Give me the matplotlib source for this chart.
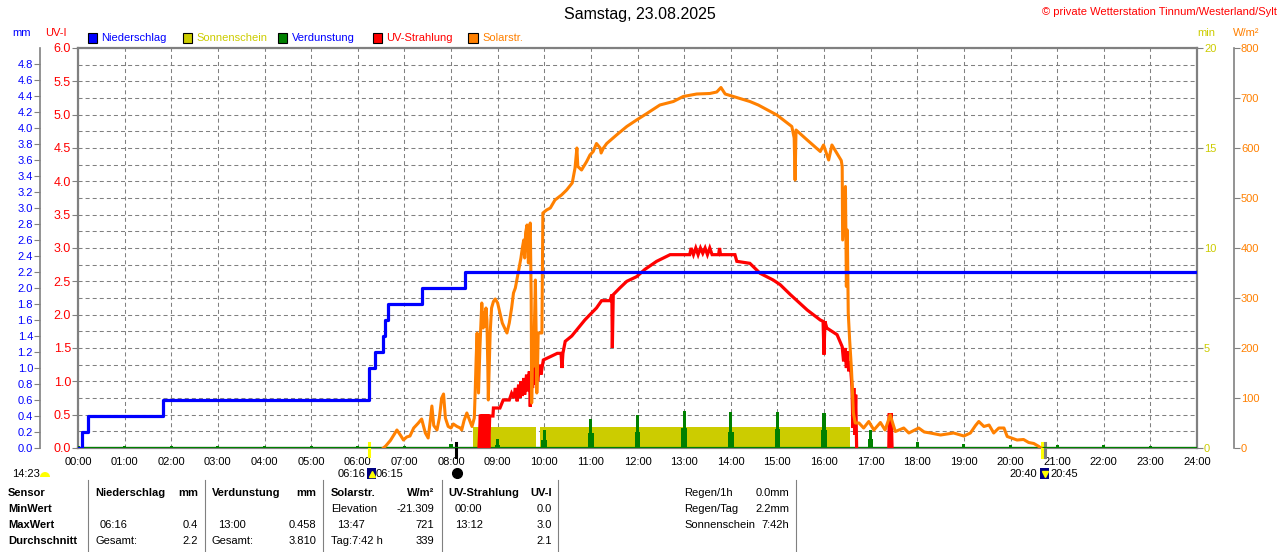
import numpy as np
import matplotlib.pyplot as plt
from matplotlib.lines import Line2D
from matplotlib.patches import Rectangle, Wedge
from matplotlib.transforms import IdentityTransform

plt.rcParams['font.family'] = ['Liberation Sans', 'DejaVu Sans']
plt.rcParams['lines.scale_dashes'] = False

# ---- data (time in hours) ----
rain_t = [0, 0.08, 0.22, 1.82, 6.25, 6.37, 6.54, 6.58, 6.65, 7.37, 8.30, 24]
rain_mm = [0, 0.2, 0.4, 0.6, 1.0, 1.2, 1.4, 1.6, 1.8, 2.0, 2.2, 2.2]

sun_start = [8.48, 9.91]
sun_end = [9.82, 16.55]
sun_min = [1.05, 1.05]

evap_hour = list(range(24))
evap_mm = [0.03, 0.02, 0.02, 0.03, 0.03, 0.03, 0.03, 0.02, 0.05, 0.11, 0.23, 0.36,
           0.41, 0.458, 0.45, 0.45, 0.44, 0.22, 0.08, 0.05, 0.04, 0.04, 0.04, 0.03]
evap_low = [0, 0, 0, 0, 0, 0, 0, 0, 0, 0.04, 0.10, 0.19,
            0.20, 0.25, 0.20, 0.24, 0.23, 0.11, 0, 0, 0, 0, 0, 0]

uv_t = [8.60, 8.63, 8.65, 8.67, 8.69, 8.71, 8.73, 8.75, 8.77, 8.79, 8.81, 8.83, 8.90, 8.91,
        9.05, 9.12, 9.25, 9.30, 9.35, 9.38, 9.42, 9.45, 9.48, 9.50, 9.53, 9.56, 9.58, 9.62,
        9.65, 9.68, 9.70, 9.72, 9.75, 9.78, 9.80, 9.83, 9.86, 9.90, 9.93, 9.98, 10.28, 10.36,
        10.38, 10.40, 10.45, 10.59, 10.73, 10.87, 10.98, 11.12, 11.23, 11.41, 11.45, 11.46,
        11.48, 11.62, 11.77, 11.98, 12.16, 12.41, 12.70, 13.12, 13.15, 13.20, 13.25, 13.30,
        13.35, 13.40, 13.45, 13.50, 13.55, 13.60, 13.74, 13.76, 13.78, 14.09, 14.13, 14.41,
        14.63, 14.91, 15.06, 15.28, 15.64, 15.92, 15.98, 16.00, 16.02, 16.06, 16.28, 16.39,
        16.42, 16.45, 16.48, 16.50, 16.53, 16.56, 16.60, 16.62, 16.64, 16.66, 16.68, 16.70,
        16.71, 17.39, 17.40, 17.42, 17.44, 17.46]
uv_i = [0, 0.5, 0, 0.5, 0, 0.5, 0, 0.5, 0, 0.5, 0, 0.48, 0.48, 0.6,
        0.6, 0.72, 0.72, 0.82, 0.75, 0.9, 0.7, 0.95, 0.75, 1.0, 0.78, 1.05, 0.8, 1.1,
        0.85, 1.15, 0.62, 1.1, 0.9, 1.22, 0.95, 1.2, 1.0, 1.25, 1.1, 1.32, 1.42, 1.42,
        1.2, 1.42, 1.6, 1.68, 1.8, 1.92, 2.0, 2.1, 2.21, 2.21, 2.3, 1.5,
        2.3, 2.4, 2.5, 2.57, 2.68, 2.8, 2.9, 2.9, 3.0, 2.9, 3.0, 2.9,
        3.0, 2.92, 3.0, 2.9, 3.0, 2.9, 2.9, 3.0, 2.9, 2.9, 2.8, 2.77,
        2.62, 2.52, 2.45, 2.3, 2.07, 1.92, 1.9, 1.4, 1.9, 1.8, 1.7, 1.52,
        1.3, 1.5, 1.2, 1.45, 1.15, 1.3, 0.92, 0.3, 0.9, 0.2, 0.8, 0.0,
        np.nan, 0, 0.52, 0.1, 0.52, 0]

sol_t = [6.55, 6.60, 6.70, 6.84, 6.92, 6.98, 7.05, 7.12, 7.20, 7.30, 7.37, 7.45, 7.51, 7.55,
         7.59, 7.63, 7.70, 7.75, 7.80, 7.84, 7.88, 7.94, 8.00, 8.05, 8.13, 8.20, 8.23, 8.28,
         8.34, 8.40, 8.45, 8.50, 8.52, 8.54, 8.56, 8.58, 8.59, 8.62, 8.66, 8.69, 8.71, 8.73,
         8.75, 8.77, 8.79, 8.80, 8.82, 8.84, 8.87, 8.91, 8.95, 9.00, 9.05, 9.10, 9.15, 9.20,
         9.25, 9.30, 9.34, 9.38, 9.42, 9.45, 9.50, 9.53, 9.56, 9.58, 9.60, 9.63, 9.66, 9.68,
         9.70, 9.72, 9.73, 9.75, 9.77, 9.79, 9.81, 9.83, 9.84, 9.86, 9.87, 9.95, 9.97, 10.05,
         10.13, 10.23, 10.37, 10.48, 10.60, 10.66, 10.70, 10.72, 10.80, 10.91, 10.98, 11.05,
         11.12, 11.20, 11.22, 11.27, 11.34, 11.55, 11.77, 11.98, 12.20, 12.48, 12.77, 12.98,
         13.27, 13.55, 13.70, 13.79, 13.88, 14.13, 14.41, 14.59, 14.99, 15.31, 15.36, 15.38,
         15.40, 15.64, 15.92, 15.99, 16.05, 16.10, 16.17, 16.30, 16.37, 16.39, 16.40, 16.43,
         16.46, 16.48, 16.50, 16.52, 16.55, 16.59, 16.63, 16.67, 16.75, 16.85, 16.96, 17.07,
         17.21, 17.31, 17.42, 17.53, 17.71, 17.82, 18.03, 18.15, 18.28, 18.50, 18.78, 19.00,
         19.14, 19.25, 19.32, 19.43, 19.54, 19.64, 19.75, 19.86, 19.93, 20.14, 20.28, 20.39,
         20.50, 20.61, 20.65]
sol_w = [0, 4, 15, 36, 25, 16, 22, 24, 40, 50, 58, 30, 20, 50,
         84, 45, 36, 60, 100, 108, 60, 43, 40, 48, 43, 40, 36, 55,
         70, 55, 43, 60, 116, 180, 230, 150, 110, 200, 290, 240, 270, 243,
         280, 256, 160, 96, 160, 230, 280, 293, 298, 290, 270, 250, 240, 230,
         250, 280, 310, 320, 340, 356, 380, 400, 416, 380, 430, 446, 370, 420,
         450, 300, 90, 200, 163, 250, 336, 200, 110, 180, 230, 230, 470, 476,
         480, 496, 506, 516, 530, 560, 600, 563, 556, 573, 586, 593,
         609, 600, 590, 600, 609, 626, 643, 656, 669, 686, 693, 703,
         708, 709, 712, 721, 708, 701, 693, 686, 666, 643, 620, 536,
         636, 616, 593, 606, 590, 576, 606, 586, 575, 563, 416, 470,
         523, 323, 436, 270, 216, 156, 70, 50, 50, 40, 53, 36,
         51, 36, 66, 33, 40, 30, 40, 32, 30, 26, 30, 24,
         30, 45, 53, 43, 46, 30, 40, 40, 23, 16, 17, 11,
         9, 3, 0]

hour_labels = ['%02d:00' % h for h in range(25)]
sun_marks_t = [6.25, 8.11, 20.67, 20.75]
sun_marks_c = ['#FFFF00', '#000000', '#FFFF00', '#808080']
sun_marks_len = [0.0325, 0.035, 0.035, 0.035]

BLUE = '#0000FF'
RED = '#FF0000'
ORANGE = '#FF8000'
YELLOW = '#CCCC00'
GREEN = '#008000'
GRAY = '#808080'

W, H = 1280, 552
fig = plt.figure(figsize=(12.8, 5.52), dpi=100)


def fx(px):
    return px / W


def fy(py):
    return 1 - py / H


def ptext(x, y, s, **kw):
    kw.setdefault('fontsize', 8)
    kw.setdefault('va', 'center')
    fig.text(fx(x), fy(y), s, **kw)


ax = fig.add_axes([fx(78), fy(448), fx(1197) - fx(78), fy(48) - fy(448)])
ax.set_xlim(0, 24)
ax.set_ylim(0, 6)
ax.set_zorder(0)

ax_sun = ax.twinx()
ax_evap = ax.twinx()
ax_uv = ax.twinx()
ax_sol = ax.twinx()
ax_rain = ax.twinx()
for i, a in enumerate([ax_sun, ax_evap, ax_uv, ax_sol, ax_rain]):
    a.set_zorder(i + 1)
    a.set_xlim(0, 24)
    for s in a.spines.values():
        s.set_visible(False)
    a.tick_params(axis='y', which='both', left=False, right=False,
                  labelleft=False, labelright=False)

# base axis: grid, UV ticks
for s in ['left', 'top', 'right', 'bottom']:
    ax.spines[s].set_color(GRAY)
    ax.spines[s].set_linewidth(1.6)
ax.set_xticks(range(25))
ax.set_xticklabels(hour_labels, fontsize=8)
ax.tick_params(axis='x', length=0, pad=6.5)
ax.set_yticks(np.arange(0, 6.01, 0.5))
ax.set_yticklabels(['%.1f' % v for v in np.arange(0, 6.01, 0.5)], color=RED, fontsize=9)
ax.set_yticks(np.arange(0, 6.01, 0.25), minor=True)
ax.tick_params(axis='y', which='major', left=True, right=False, length=4,
               color=GRAY, pad=1, labelleft=True, labelright=False)
ax.tick_params(axis='y', which='minor', length=0)
ax.grid(True, which='both', axis='y', color=GRAY, lw=0.75, linestyle=(0, (2.9, 2.2)))
ax.grid(True, which='major', axis='x', color=GRAY, lw=0.75, linestyle=(0, (2.9, 2.2)))
ax.set_axisbelow(True)

# sunshine
ax_sun.set_ylim(0, 20)
ax_sun.bar(sun_start, sun_min, width=np.array(sun_end) - np.array(sun_start),
           align='edge', color=YELLOW, linewidth=0)
ax_sun.set_yticks([0, 5, 10, 15, 20])
ax_sun.set_yticklabels(['0', '5', '10', '15', '20'], color=YELLOW, fontsize=8)
ax_sun.tick_params(axis='y', right=True, labelright=True, length=4, color=GRAY, pad=1)

# evaporation
ax_evap.set_ylim(0, 5)
ax_evap.bar(evap_hour, evap_low, width=0.12, color=GREEN, linewidth=0)
ax_evap.bar(evap_hour, evap_mm, width=0.065, color=GREEN, linewidth=0)
ax_evap.axhline(0, color=GREEN, lw=1.6)

# UV
ax_uv.set_ylim(0, 6)
ax_uv.plot(uv_t, uv_i, color=RED, lw=2.3, solid_joinstyle='miter')

# solar
ax_sol.set_ylim(0, 800)
ax_sol.plot(sol_t, sol_w, color=ORANGE, lw=2.2)
ax_sol.spines['right'].set_visible(True)
ax_sol.spines['right'].set_position(('outward', 26.6))
ax_sol.spines['right'].set_color(GRAY)
ax_sol.spines['right'].set_linewidth(1.2)
ax_sol.set_yticks(np.arange(0, 801, 100))
ax_sol.set_yticklabels([str(v) for v in range(0, 801, 100)], color=ORANGE, fontsize=8)
ax_sol.tick_params(axis='y', right=True, labelright=True, length=4, color=GRAY, pad=1)

# rain
ax_rain.set_ylim(0, 5)
ax_rain.plot(rain_t, rain_mm, color=BLUE, lw=2.3, drawstyle='steps-post')
ax_rain.yaxis.set_label_position('left')
ax_rain.spines['left'].set_visible(True)
ax_rain.spines['left'].set_position(('outward', 27.4))
ax_rain.spines['left'].set_color(GRAY)
ax_rain.spines['left'].set_linewidth(1.2)
mm_ticks = np.arange(0, 4.81, 0.2)
ax_rain.set_yticks(mm_ticks)
ax_rain.set_yticklabels(['%.1f' % v for v in mm_ticks], color=BLUE, fontsize=8)
ax_rain.tick_params(axis='y', left=True, labelleft=True, length=4, color=GRAY, pad=1)

# sunrise / sunset marks below the axis
for t, c, ln in zip(sun_marks_t, sun_marks_c, sun_marks_len):
    ax.plot([t, t], [0.0125, 0.0125 - ln], color=c, lw=2.2,
            transform=ax.get_xaxis_transform(), clip_on=False, zorder=10)

# header texts
ptext(640, 15, 'Samstag, 23.08.2025', fontsize=11.5, ha='center')
ptext(1277, 12, '\u00a9 private Wetterstation Tinnum/Westerland/Sylt', color=RED, ha='right')
ptext(22, 33, 'mm', color=BLUE, ha='center')
ptext(56, 33, 'UV-I', color=RED, ha='center')
ptext(1206, 33, 'min', color=YELLOW, ha='center')
ptext(1246, 33, 'W/m\u00b2', color=ORANGE, ha='center')

legend = [('Niederschlag', BLUE, BLUE, 87.5),
          ('Sonnenschein', YELLOW, YELLOW, 182.5),
          ('Verdunstung', GREEN, BLUE, 277.5),
          ('UV-Strahlung', RED, RED, 372.5),
          ('Solarstr.', ORANGE, ORANGE, 468)]
for name, fc, tc, x in legend:
    fig.add_artist(Rectangle((fx(x), fy(43)), 9.5 / W, 9.5 / H, transform=fig.transFigure,
                             facecolor=fc, edgecolor='black', lw=0.8))
    ptext(x + 14, 38, name, color=tc)

# sun / moon info under the axis
ptext(12, 474, '14:23')
fig.add_artist(Wedge((45, 552 - 477), 5, 0, 180, transform=IdentityTransform(),
                     facecolor='#FFFF00', edgecolor='none'))
ptext(366, 474, '06:16', ha='right')
ptext(376, 474, '06:15')
fig.add_artist(Rectangle((367, 552 - 479), 9, 11, transform=IdentityTransform(),
                         facecolor='#000080', edgecolor='none'))
fig.add_artist(Line2D([fx(371.5)], [fy(474)], transform=fig.transFigure, marker='^',
                      color='#FFFF00', markersize=4.5, linestyle='none'))
ptext(1037, 474, '20:40', ha='right')
ptext(1050, 474, '20:45')
fig.add_artist(Rectangle((1040, 552 - 479), 9, 11, transform=IdentityTransform(),
                         facecolor='#000080', edgecolor='none'))
fig.add_artist(Line2D([fx(1044.5)], [fy(474)], transform=fig.transFigure, marker='v',
                      color='#FFFF00', markersize=4.5, linestyle='none'))
fig.add_artist(Line2D([fx(457)], [fy(473)], transform=fig.transFigure, marker='o',
                      color='black', markersize=7, linestyle='none'))

# table
rows_y = [493, 509, 525, 541]
for y, s in zip(rows_y, ['Sensor', 'MinWert', 'MaxWert', 'Durchschnitt']):
    ptext(8, y, s, fontweight='bold')
for x in [88, 205, 323, 442, 558, 796]:
    fig.add_artist(Line2D([fx(x), fx(x)], [fy(480), fy(552)], transform=fig.transFigure,
                          color=GRAY, lw=0.8))

ptext(95, 493, 'Niederschlag', fontweight='bold')
ptext(198, 493, 'mm', fontweight='bold', ha='right')
ptext(100, 525, '06:16')
ptext(198, 525, '0.4', ha='right')
ptext(95, 541, 'Gesamt:')
ptext(198, 541, '2.2', ha='right')

ptext(212, 493, 'Verdunstung', fontweight='bold')
ptext(316, 493, 'mm', fontweight='bold', ha='right')
ptext(218, 525, '13:00')
ptext(316, 525, '0.458', ha='right')
ptext(212, 541, 'Gesamt:')
ptext(316, 541, '3.810', ha='right')

ptext(331, 493, 'Solarstr.', fontweight='bold')
ptext(434, 493, 'W/m\u00b2', fontweight='bold', ha='right')
ptext(331, 509, 'Elevation')
ptext(434, 509, '-21.309', ha='right')
ptext(337, 525, '13:47')
ptext(434, 525, '721', ha='right')
ptext(331, 541, 'Tag:7:42 h')
ptext(434, 541, '339', ha='right')

ptext(448, 493, 'UV-Strahlung', fontweight='bold')
ptext(552, 493, 'UV-I', fontweight='bold', ha='right')
ptext(455, 509, '00:00')
ptext(552, 509, '0.0', ha='right')
ptext(455, 525, '13:12')
ptext(552, 525, '3.0', ha='right')
ptext(552, 541, '2.1', ha='right')

ptext(684, 493, 'Regen/1h')
ptext(789, 493, '0.0mm', ha='right')
ptext(684, 509, 'Regen/Tag')
ptext(789, 509, '2.2mm', ha='right')
ptext(684, 525, 'Sonnenschein')
ptext(789, 525, '7:42h', ha='right')

fig.savefig('out.png', dpi=100, facecolor='white')
